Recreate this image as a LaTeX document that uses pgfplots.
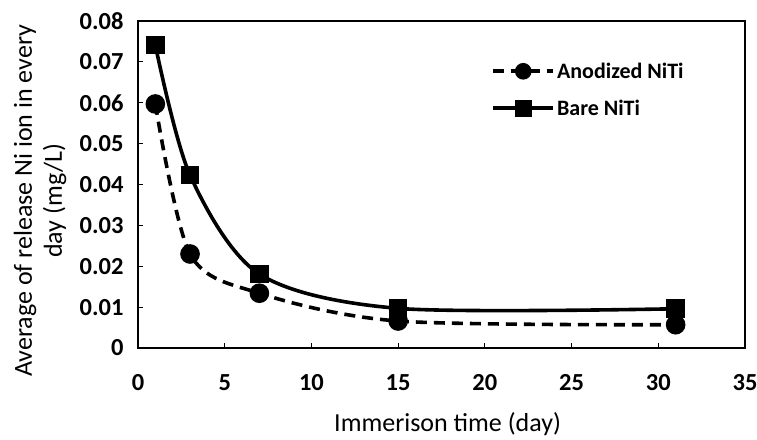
\documentclass[border=0pt]{standalone}
\usepackage{pgfplots}
\pgfplotsset{compat=1.18}
\usepackage{fontspec}
\setmainfont{Carlito}

\begin{document}
\begin{tikzpicture}[x=1pt,y=1pt]
\path[use as bounding box] (0,0) rectangle (757,439);
\begin{axis}[
  at={(138pt,91pt)}, anchor=south west,
  scale only axis,
  width=607pt, height=327pt,
  xmin=0, xmax=35, ymin=0, ymax=0.08,
  scaled y ticks=false,
  xtick={0,5,...,35},
  xticklabels={0,5,10,15,20,25,30,35},
  ytick={0,0.01,0.02,0.03,0.04,0.05,0.06,0.07,0.08},
  yticklabels={0,0.01,0.02,0.03,0.04,0.05,0.06,0.07,0.08},
  tick align=inside,
  xtick pos=bottom, ytick pos=left,
  major tick length=5pt,
  axis line style={line width=2.5pt},
  every tick/.style={line width=1pt, black},
  tick label style={font=\fontsize{24.5}{28}\selectfont\bfseries},
  xticklabel style={yshift=-23pt},
  yticklabel style={xshift=-11pt},
  label style={font=\fontsize{26}{30}\selectfont},
  xlabel={Immerison time (day)},
  xlabel style={at={(axis description cs:0.51,0)}, anchor=south, yshift=-91pt},
  ylabel={Average of release Ni ion in every\\day (mg/L)},
  ylabel style={at={(axis description cs:0,0.45)}, anchor=center, yshift=98pt, align=center},
  legend style={draw=none, fill=none, at={(axis description cs:0.577,0.885)}, anchor=north west,
    font=\fontsize{22}{26}\selectfont\bfseries, row sep=16pt},
  legend cell align=left,
  legend image code/.code={
    \draw[#1, mark repeat=2, mark phase=2, mark size=6.5pt] plot coordinates {(0pt,0pt) (30pt,0pt) (60pt,0pt)};
  },
]
\addplot[black, line width=3.6pt, dash pattern=on 11pt off 7pt, smooth, tension=0.5,
  mark=*, mark size=8pt, mark options={solid}]
  coordinates {(1,0.0597) (3,0.0230) (7,0.0134) (15,0.0066) (31,0.0057)};
\addlegendentry{Anodized NiTi}
\addplot[black, line width=3.6pt, smooth, tension=0.5,
  mark=square*, mark size=7.5pt, mark options={solid}]
  coordinates {(1,0.0741) (3,0.0423) (7,0.0181) (15,0.0097) (31,0.0096)};
\addlegendentry{Bare NiTi}
\end{axis}
\end{tikzpicture}
\end{document}
